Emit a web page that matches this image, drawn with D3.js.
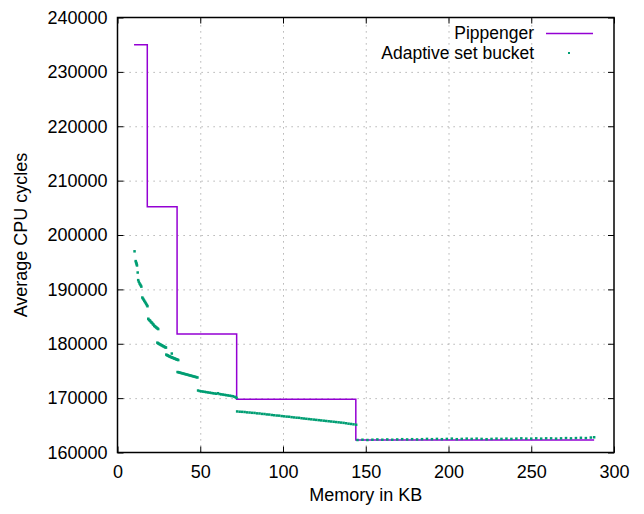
<!DOCTYPE html>
<html>
<head>
<meta charset="utf-8">
<script src="https://cdn.jsdelivr.net/npm/d3@7"></script>
<style>
  body { margin: 0; background: #fff; }
  svg text { font-family: "Liberation Sans", Arial, Helvetica, sans-serif; }
  .grid line { stroke: #a0a0a0; stroke-dasharray: 1.2,4.8; }
  .grid path { display: none; }
</style>
</head>
<body>
<svg width="644" height="514"></svg>
<script>
// Pippenger: step values at each memory size
const pipX = [10, 18, 36, 72, 144, 288];
const pipY = [235000, 205200, 181800, 169800, 162300, 162300];

// Adaptive set bucket
const adaX = [
  10.3, 11.0, 11.2, 11.4, 11.6, 11.8, 12.2,
  12.5, 12.9, 13.3, 13.7, 14.1, 14.4,
  15.0, 15.4, 15.8, 16.2, 16.6, 17.0, 17.4, 17.8, 18.1,
  18.6, 19.0, 19.4, 19.8, 20.2, 20.6, 21.0, 21.4, 21.8, 22.2, 22.6, 23.0, 23.4, 23.8, 24.2, 24.6,
  24.1, 24.5, 24.9, 25.3, 25.7, 26.1, 26.5, 26.9, 27.3, 27.7, 28.1, 28.5, 28.9, 29.3,
  29.5, 29.9, 30.3, 30.7, 31.1, 31.5, 31.9, 32.3, 32.7, 32.8, 33.1, 33.5, 33.9, 34.3, 34.7, 35.1, 35.5, 35.9, 36.3, 36.7,
  36.3, 36.9, 37.5, 38.1, 38.7, 39.3, 39.9, 40.5, 41.1, 41.7, 42.3, 42.9, 43.5, 44.1, 44.7, 45.3, 45.9, 46.5, 47.1, 47.7, 48.3,
  48.7, 49.7, 50.7, 51.7, 52.7, 53.7, 54.7, 55.7, 56.7, 57.7, 58.7, 59.7, 60.7, 61.7, 62.7, 63.7, 64.7, 65.7, 66.7, 67.7, 68.7, 69.7, 70.7, 71.4, 71.9,
  72.3, 73.8, 75.3, 76.8, 78.3, 79.8, 81.3, 82.8, 84.3, 85.8, 87.3, 88.8, 90.2, 91.7, 93.2, 94.7, 96.2, 97.7, 99.2, 100.7,
  102.2, 103.7, 105.2, 106.7, 108.2, 109.7, 111.2, 112.6, 114.1, 115.6, 117.1, 118.6, 120.1, 121.6, 123.1, 124.6, 126.1, 127.6,
  129.1, 130.6, 132.1, 133.6, 135.1, 136.6, 138.1, 139.6, 141.1, 142.6, 144.2,
  145, 148, 151, 154, 157, 160, 163, 166, 169, 172, 175, 178, 181, 184, 187, 190, 193, 196, 199, 202,
  205, 208, 211, 214, 217, 220, 223, 226, 229, 232, 235, 238, 241, 244, 247, 250, 253, 256, 259, 262,
  265, 268, 271, 274, 277, 280, 283, 286, 288
];
const adaY = [
  197000, 195200, 195000, 194800, 194600, 194400, 193100,
  191700, 191400, 191100, 190900, 190700, 190500,
  188500, 188300, 188100, 187900, 187700, 187500, 187300, 187100, 186900,
  184600, 184400, 184300, 184200, 184000, 183900, 183800, 183600, 183500, 183300, 183200, 183100, 183000, 182900, 182800, 182700,
  180200, 180100, 180000, 179950, 179900, 179800, 179750, 179700, 179600, 179550, 179500, 179400, 179350, 179300,
  178000, 177900, 177850, 177800, 177700, 177650, 177600, 177550, 177500, 178200, 177450, 177400, 177350, 177300, 177250, 177200, 177150, 177100, 177050, 177000,
  174800, 174750, 174700, 174650, 174600, 174550, 174500, 174450, 174400, 174350, 174300, 174250, 174200, 174150, 174100, 174050, 174000, 173950, 173900, 173850, 173800,
  171400, 171300, 171250, 171200, 171150, 171100, 171050, 171000, 170950, 170900, 170850, 170800, 170900, 170750, 170700, 170650, 170600, 170550, 170500, 170450, 170400, 170350, 170250, 170150, 170050,
  167550, 167500, 167480, 167450, 167380, 167350, 167300, 167280, 167200, 167180, 167100, 167080, 167000, 166980, 166900, 166850, 166800, 166780, 166700, 166650,
  166600, 166580, 166500, 166450, 166400, 166380, 166300, 166250, 166200, 166150, 166100, 166050, 166000, 165950, 165900, 165850, 165800, 165750,
  165700, 165650, 165600, 165550, 165500, 165450, 165380, 165300, 165250, 165180, 165100,
  162300, 162350, 162300, 162350, 162400, 162350, 162400, 162350, 162400, 162450, 162400, 162450, 162400, 162450, 162500, 162450, 162500, 162450, 162500, 162550,
  162450, 162500, 162550, 162500, 162550, 162500, 162450, 162500, 162550, 162500, 162550, 162500, 162550, 162600, 162550, 162550, 162600, 162550, 162600, 162600,
  162550, 162600, 162650, 162600, 162650, 162700, 162650, 162750, 162800
];

const xTicks = [0, 50, 100, 150, 200, 250, 300];
const yTicks = [160000, 170000, 180000, 190000, 200000, 210000, 220000, 230000, 240000];

const svg = d3.select('svg');
const mLeft = 117.5, mTop = 17.5, mRight = 614, mBottom = 452.5;
const width = mRight - mLeft;
const height = mBottom - mTop;
const fontSize = 18;

const chart = svg.append('g')
  .attr('transform', `translate(${mLeft}, ${mTop})`);

const xScale = d3.scaleLinear().domain([0, 300]).range([0, width]);
const yScale = d3.scaleLinear().domain([160000, 240000]).range([height, 0]);

// grid lines
chart.append('g')
  .attr('class', 'grid')
  .attr('transform', `translate(0, ${height})`)
  .call(d3.axisBottom(xScale).tickValues(xTicks.slice(1, -1)).tickSize(-height).tickFormat(''));

chart.append('g')
  .attr('class', 'grid')
  .call(d3.axisLeft(yScale).tickValues(yTicks.slice(1, -1)).tickSize(-width).tickFormat(''));

// axes, ticks pointing inward, mirrored
const styleAxis = (g) => {
  g.select('.domain').remove();
  g.selectAll('line').attr('stroke', '#000').attr('stroke-width', 1);
  g.selectAll('text').attr('font-size', fontSize).attr('fill', '#000')
    .style('font-family', '"Liberation Sans", Arial, sans-serif');
};

chart.append('g')
  .attr('transform', `translate(0, ${height})`)
  .call(d3.axisBottom(xScale).tickValues(xTicks).tickSizeInner(-6).tickSizeOuter(0).tickPadding(13).tickFormat(d3.format('d')))
  .call(styleAxis);

chart.append('g')
  .call(d3.axisTop(xScale).tickValues(xTicks).tickSizeInner(-6).tickSizeOuter(0).tickFormat(''))
  .call(styleAxis);

chart.append('g')
  .call(d3.axisLeft(yScale).tickValues(yTicks).tickSizeInner(-6).tickSizeOuter(0).tickPadding(10).tickFormat(d3.format('d')))
  .call(styleAxis);

chart.append('g')
  .attr('transform', `translate(${width}, 0)`)
  .call(d3.axisRight(yScale).tickValues(yTicks).tickSizeInner(-6).tickSizeOuter(0).tickFormat(''))
  .call(styleAxis);

// Pippenger step line
const pip = pipX.map((x, i) => [x, pipY[i]]);
chart.append('path')
  .datum(pip)
  .attr('fill', 'none')
  .attr('stroke', '#9400d3')
  .attr('stroke-width', 1.5)
  .attr('d', d3.line()
    .x((d) => xScale(d[0]))
    .y((d) => yScale(d[1]))
    .curve(d3.curveStepAfter));

// Adaptive set bucket dots
chart.append('g')
  .selectAll('rect')
  .data(adaX.map((x, i) => [x, adaY[i]]))
  .enter()
  .append('rect')
  .attr('x', (d) => xScale(d[0]) - 1.25)
  .attr('y', (d) => yScale(d[1]) - 1.25)
  .attr('width', 2.5)
  .attr('height', 2.5)
  .attr('fill', '#009e73');

// frame
chart.append('rect')
  .attr('width', width)
  .attr('height', height)
  .attr('fill', 'none')
  .attr('stroke', '#000')
  .attr('stroke-width', 1.5);

// legend
const legendSize = 17.5;
const legend = svg.append('g');
legend.append('text')
  .attr('x', 534).attr('y', 38.5)
  .attr('text-anchor', 'end')
  .attr('font-size', legendSize)
  .text('Pippenger');
legend.append('line')
  .attr('x1', 546).attr('x2', 593)
  .attr('y1', 33.5).attr('y2', 33.5)
  .attr('stroke', '#9400d3')
  .attr('stroke-width', 1.5);
legend.append('text')
  .attr('x', 534).attr('y', 59)
  .attr('text-anchor', 'end')
  .attr('font-size', legendSize)
  .text('Adaptive set bucket');
legend.append('rect')
  .attr('x', 568).attr('y', 52)
  .attr('width', 2).attr('height', 2)
  .attr('fill', '#009e73');

// axis labels
svg.append('text')
  .attr('x', (mLeft + mRight) / 2)
  .attr('y', 501)
  .attr('text-anchor', 'middle')
  .attr('font-size', fontSize)
  .text('Memory in KB');

svg.append('text')
  .attr('transform', `translate(27, ${(mTop + mBottom) / 2}) rotate(-90)`)
  .attr('text-anchor', 'middle')
  .attr('font-size', fontSize)
  .text('Average CPU cycles');
</script>
</body>
</html>
